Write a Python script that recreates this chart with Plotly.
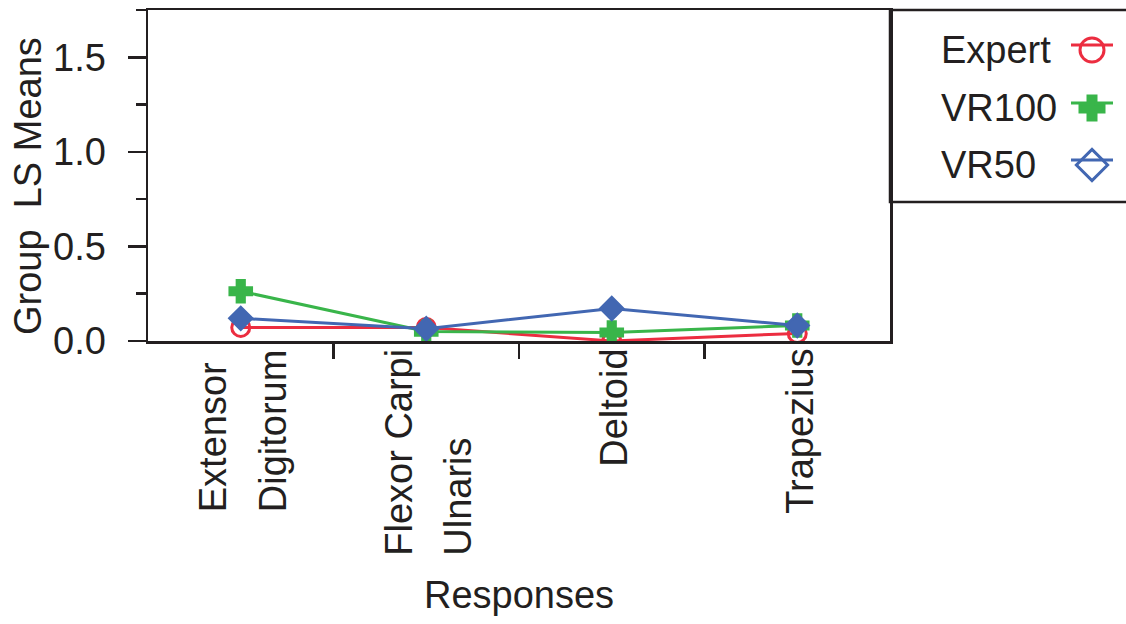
import plotly.graph_objects as go

# ---------------- data ----------------
categories = ["Extensor Digitorum", "Flexor Carpi Ulnaris", "Deltoid", "Trapezius"]
tick_lines = [["Extensor", "Digitorum"], ["Flexor Carpi", "Ulnaris"], ["Deltoid"], ["Trapezius"]]
series_names = ["Expert", "VR100", "VR50"]
expert = [0.072, 0.072, 0.0, 0.040]
vr100 = [0.263, 0.050, 0.045, 0.082]
vr50 = [0.120, 0.065, 0.172, 0.082]
y_ticks = [0.0, 0.5, 1.0, 1.5]
y_title = "Group\u00a0 LS Means"
x_title = "Responses"

# ---------------- style ----------------
INK = "#231F20"
FONT = "Liberation Sans, Arial, Helvetica, sans-serif"
FS = 38
colors = ["#EC2D40", "#39B54A", "#4267B2"]
symbols = ["circle-open", "cross", "diamond"]
legend_symbols = ["circle-open", "cross", "diamond-open"]
msize = [18, 18, 17]
legend_msize = [24, 20, 24]

W, H = 1126, 624
L, R, T, B = 148, 0, 10, 283
plot_right_px = 890
paper_w = W - L - R
x_dom_end = (plot_right_px - L) / paper_w
legend_bottom_px = 202
plot_h = H - T - B
leg_dom_start = 1 - (legend_bottom_px - T) / plot_h

series = [expert, vr100, vr50]
xs = list(range(len(categories)))

fig = go.Figure()
for name, vals, c, s, ms in zip(series_names, series, colors, symbols, msize):
    fig.add_trace(go.Scatter(
        x=xs, y=vals, name=name, mode="lines+markers",
        line=dict(color=c, width=3),
        marker=dict(symbol=s, size=ms, color=c, line=dict(color=c, width=3)),
        showlegend=False, hoverinfo="skip",
    ))

# custom legend (symbol on the right of the label) drawn on an overlay axis
leg_rows = [50, 108, 165]
for name, c, s, ms, ry in zip(series_names, colors, legend_symbols, legend_msize, leg_rows):
    fig.add_trace(go.Scatter(
        x=[1071, 1113], y=[ry - 5, ry - 5], mode="lines", line=dict(color=c, width=3),
        xaxis="x2", yaxis="y2", showlegend=False, hoverinfo="skip",
    ))
    fig.add_trace(go.Scatter(
        x=[1092], y=[ry], mode="markers",
        marker=dict(symbol=s, size=ms, color=c, line=dict(color=c, width=3)),
        xaxis="x2", yaxis="y2", showlegend=False, hoverinfo="skip", cliponaxis=False,
    ))
    fig.add_annotation(
        x=939, y=ry, xref="x2", yref="y2", text=name, showarrow=False,
        xanchor="left", yanchor="middle", font=dict(size=FS, color=INK, family=FONT),
    )

# category labels: rotated, multi-line, with wide line spacing
for i, lines in enumerate(tick_lines):
    n = len(lines)
    for k in range(n):
        txt = "<br>".join(
            ln if j == k else f"<span style='color:rgba(0,0,0,0)'>{ln}</span>"
            for j, ln in enumerate(lines)
        )
        fig.add_annotation(
            x=xs[i], y=0, xref="x", yref="paper", text=txt, showarrow=False,
            textangle=-90, align="left", xanchor="center", yanchor="top",
            xshift=2 + (k - (n - 1) / 2) * 10, yshift=-6,
            font=dict(size=FS, color=INK, family=FONT),
        )

# axis titles
fig.add_annotation(
    x=0, y=(H - B - 186) / plot_h, xref="paper", yref="paper", text=y_title,
    showarrow=False, textangle=-90, xanchor="center", yanchor="middle", xshift=-120,
    font=dict(size=FS, color=INK, family=FONT),
)
fig.add_annotation(
    x=x_dom_end / 2, y=0, xref="paper", yref="paper", text=x_title,
    showarrow=False, xanchor="center", yanchor="middle", yshift=-254,
    font=dict(size=FS, color=INK, family=FONT),
)

# legend frame
fig.add_shape(
    type="rect", xref="paper", yref="paper", x0=x_dom_end, x1=1.05, y0=leg_dom_start, y1=1,
    line=dict(color=INK, width=2.5), fillcolor="rgba(0,0,0,0)", layer="above",
)

fig.update_layout(
    width=W, height=H,
    margin=dict(l=L, r=R, t=T, b=B, pad=0),
    paper_bgcolor="white", plot_bgcolor="white",
    font=dict(family=FONT, size=FS, color=INK),
    showlegend=False,
    xaxis=dict(
        domain=[0, x_dom_end], range=[-0.5, len(categories) - 0.5],
        tickmode="array", tickvals=[i + 0.5 for i in range(len(categories) - 1)],
        ticktext=["" for _ in range(len(categories) - 1)],
        ticks="outside", ticklen=15, tickwidth=2.5, tickcolor=INK,
        showline=True, linecolor=INK, linewidth=2.5, mirror=True,
        showgrid=False, zeroline=False, showticklabels=False,
    ),
    yaxis=dict(
        range=[0, 1.75], tickmode="array", tickvals=y_ticks,
        ticktext=[f"{v:.1f}" for v in y_ticks],
        ticks="outside", ticklen=18, tickwidth=2.5, tickcolor=INK,
        minor=dict(ticks="outside", ticklen=10, tickwidth=2.5, tickcolor=INK, dtick=0.25, showgrid=False),
        showline=True, linecolor=INK, linewidth=2.5, mirror=True,
        showgrid=False, zeroline=False, ticklabelstandoff=14,
        tickfont=dict(size=FS, color=INK, family=FONT),
    ),
    xaxis2=dict(domain=[x_dom_end, 1], range=[plot_right_px, W], visible=False, anchor="y2"),
    yaxis2=dict(domain=[leg_dom_start, 1], range=[legend_bottom_px, T], visible=False, anchor="x2"),
)

fig.write_html(
    "out.html",
    config={"displayModeBar": False, "staticPlot": True},
    post_script="document.body.style.margin='0';document.body.style.overflow='hidden';",
)
